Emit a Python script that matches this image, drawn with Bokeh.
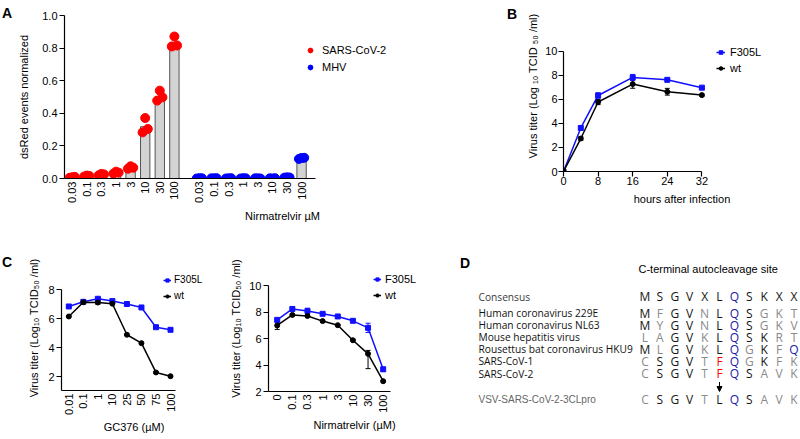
import math
from bokeh.plotting import figure
from bokeh.models import (Range1d, FixedTicker, ColumnDataSource, Whisker, TeeHead,
                          Legend, LegendItem, Arrow, NormalHead, NumeralTickFormatter)
from bokeh.layouts import row, column
from bokeh.core.properties import value
from bokeh.embed import file_html
from bokeh.resources import INLINE

# ---------------- data ----------------
# Panel A : dsRed events normalized vs Nirmatrelvir (uM)
conc_a = ["0.03", "0.1", "0.3", "1", "3", "10", "30", "100"]
sars_mean = [0.006, 0.014, 0.023, 0.033, 0.062, 0.318, 0.500, 0.826]
sars_rep1 = [0.004, 0.012, 0.020, 0.030, 0.060, 0.283, 0.478, 0.810]
sars_rep2 = [0.008, 0.018, 0.028, 0.042, 0.075, 0.371, 0.539, 0.871]
sars_rep3 = [0.010, 0.015, 0.025, 0.036, 0.066, 0.304, 0.498, 0.816]
mhv_mean = [0.001, 0.001, 0.001, 0.001, 0.001, 0.001, 0.006, 0.122]
mhv_rep1 = [0.000, 0.001, 0.000, 0.000, 0.001, 0.001, 0.005, 0.120]
mhv_rep2 = [0.002, 0.001, 0.001, 0.002, 0.001, 0.000, 0.007, 0.126]
mhv_rep3 = [0.001, 0.002, 0.002, 0.001, 0.000, 0.002, 0.006, 0.127]

# Panel B : growth kinetics
hours = [0, 4, 8, 16, 24, 32]
b_f305l = [0.0, 3.62, 6.32, 7.82, 7.62, 6.97]
b_f305l_sd = [0.0, 0.15, 0.22, 0.25, 0.08, 0.08]
b_wt = [0.0, 2.74, 5.78, 7.27, 6.63, 6.35]
b_wt_sd = [0.0, 0.15, 0.22, 0.35, 0.28, 0.08]

# Panel C (left) : GC376
gc_conc = ["0.01", "0.1", "1", "10", "25", "50", "75", "100"]
c1_f305l = [6.83, 7.15, 7.36, 7.20, 7.00, 6.76, 5.40, 5.22]
c1_f305l_sd = [0.05, 0.05, 0.08, 0.05, 0.05, 0.05, 0.05, 0.05]
c1_wt = [6.14, 7.12, 7.10, 7.02, 4.88, 4.30, 2.28, 2.02]
c1_wt_sd = [0.05, 0.05, 0.12, 0.05, 0.05, 0.05, 0.05, 0.05]

# Panel C (right) : Nirmatrelvir
nir_conc = ["0", "0.1", "0.3", "1", "3", "10", "30", "100"]
c2_f305l = [7.42, 8.25, 8.10, 7.88, 7.68, 7.35, 6.82, 3.68]
c2_f305l_sd = [0.12, 0.10, 0.20, 0.05, 0.05, 0.08, 0.35, 0.15]
c2_wt = [7.00, 7.80, 7.72, 7.33, 7.02, 5.88, 4.85, 2.78]
c2_wt_err_lo = [0.30, 0.05, 0.05, 0.05, 0.05, 0.05, 1.12, 0.05]
c2_wt_err_hi = [0.30, 0.05, 0.05, 0.05, 0.05, 0.05, 0.26, 0.05]

# Panel D : alignment of the C-terminal autocleavage site
d_names = ["Consensus", "Human coronavirus 229E", "Human coronavirus NL63",
           "Mouse hepatitis virus", "Rousettus bat coronavirus HKU9",
           "SARS-CoV-1", "SARS-CoV-2", "VSV-SARS-CoV-2-3CLpro"]
d_seqs = ["MSGVXLQSKXX", "MFGVNLQSGKT", "MYGVNLQSGKV", "LAGVKLQSKRT",
          "MLGVKLQGKFQ", "CSGVTFQGKFK", "CSGVTFQSAVK", "CSGVTLQSAVK"]

# ---------------- geometry / style ----------------
FONT = "Liberation Sans"
BLUE = "#1010ff"
RED = "#ff0000"
MHV_BLUE = "#0000ff"
Q_BLUE = "#2020a8"
GRAY = "#8a8a8a"


def make_fig(canvas, frame, x_range, y_range, axes=True):
    cl, ct, cr, cb = canvas
    fl, ft, fr, fb = frame
    kw = {} if axes else dict(x_axis_location=None, y_axis_location=None)
    p = figure(width=cr - cl, height=cb - ct, x_range=x_range, y_range=y_range, title=None,
               toolbar_location=None, output_backend="svg", frame_align=False,
               min_border_left=fl - cl, min_border_right=cr - fr,
               min_border_top=ft - ct, min_border_bottom=cb - fb, **kw)
    p.outline_line_color = None
    p.xgrid.visible = False
    p.ygrid.visible = False
    p.background_fill_color = "white"
    p.border_fill_color = "white"
    return p


def style_axes(p):
    for ax in p.axis:
        ax.axis_line_color = "black"
        ax.axis_line_width = 1.2
        ax.major_tick_line_color = "black"
        ax.major_tick_line_width = 1.2
        ax.major_tick_in = 0
        ax.major_tick_out = 5
        ax.minor_tick_line_color = None
        ax.major_label_text_font = FONT
        ax.major_label_text_font_size = "11px"
        ax.major_label_text_color = "black"
        ax.axis_label_text_font = FONT
        ax.axis_label_text_font_size = "11px"
        ax.axis_label_text_font_style = "normal"
        ax.axis_label_text_color = "black"


def add_legend(p, items, frame, glyph_left, first_center, step, glyph_w, standoff,
               font_size="11px"):
    fl, ft, fr, fb = frame
    ih = 14
    n = len(items)
    x = glyph_left - fl
    y = fb - (first_center + step * (n - 1)) - ih / 2
    leg = Legend(items=items, location=(x, y), orientation="vertical", padding=0, margin=0,
                 spacing=max(0, round(step - ih)), glyph_width=glyph_w, glyph_height=ih,
                 label_height=ih, label_standoff=standoff, label_text_font=FONT,
                 label_text_font_size=font_size, label_text_color="black",
                 border_line_color=None, background_fill_alpha=0)
    p.add_layout(leg)


def add_err(p, xs, ys, lo, hi, color):
    src = ColumnDataSource(dict(x=xs, upper=[y + h for y, h in zip(ys, hi)],
                                lower=[y - l for y, l in zip(ys, lo)]))
    p.add_layout(Whisker(source=src, base="x", upper="upper", lower="lower", dimension="height",
                         line_color=color, line_width=1,
                         upper_head=TeeHead(size=5, line_color=color, line_width=1),
                         lower_head=TeeHead(size=5, line_color=color, line_width=1)))


def letter_fig(canvas, letter, px, base):
    cl, ct, cr, cb = canvas
    p = make_fig(canvas, canvas, Range1d(cl, cr), Range1d(cb, ct), axes=False)
    p.text(x=[px], y=[base], text=[letter], text_color="black", text_font=value(FONT),
           text_font_size="14px", text_font_style="bold", text_align="left",
           text_baseline="alphabetic")
    return p


# canvas edges (page pixels)
TOP_H = 225
FULL_H = 439
W = 800

# ---------------- Panel A ----------------
cA = (14, 0, 500, TOP_H)
fA = (64, 15, 500, 178)
A_X0, A_PPU = 71.7, 14.6          # pixel of first category and pixels per category
ax_start = (fA[0] - A_X0) / A_PPU
ax_end = (fA[2] - A_X0) / A_PPU
pA = make_fig(cA, fA, Range1d(ax_start, ax_end), Range1d(0, 1.0))
GROUP_GAP = 1.71
xs_s = [float(i) for i in range(len(conc_a))]
xs_m = [i + len(conc_a) - 1 + GROUP_GAP for i in range(len(conc_a))]
JITTER = [-0.18, 0.0, 0.18]
pA.vbar(x=xs_s, top=sars_mean, width=0.64, fill_color="#d3d3d3", line_color="#555555", line_width=1)
pA.vbar(x=xs_m, top=mhv_mean, width=0.64, fill_color="#d3d3d3", line_color="#555555", line_width=1)
r_sars = None
r_mhv = None
for off, rep in zip(JITTER, [sars_rep1, sars_rep2, sars_rep3]):
    r = pA.scatter([x + off for x in xs_s], rep, size=9, color=RED)
    r_sars = r_sars or r
for off, rep in zip(JITTER, [mhv_rep1, mhv_rep2, mhv_rep3]):
    r = pA.scatter([x + off for x in xs_m], rep, size=9, color=MHV_BLUE)
    r_mhv = r_mhv or r
style_axes(pA)
pA.xaxis.bounds = (ax_start, (315 - A_X0) / A_PPU)
pA.xaxis.ticker = FixedTicker(ticks=xs_s + xs_m)
pA.xaxis.major_label_overrides = {x: lab for x, lab in zip(xs_s + xs_m, conc_a + conc_a)}
pA.xaxis.major_label_orientation = math.pi / 2
pA.xaxis.major_tick_out = 0
pA.xaxis.major_label_standoff = 3
pA.xaxis.axis_label = "Nirmatrelvir µM"
pA.xaxis.axis_label_standoff = 4
pA.yaxis.ticker = FixedTicker(ticks=[0, 0.2, 0.4, 0.6, 0.8, 1.0])
pA.yaxis.formatter = NumeralTickFormatter(format="0.0")
pA.yaxis.major_label_standoff = 2
pA.yaxis.axis_label = "dsRed events normalized"
pA.yaxis.axis_label_standoff = 9
add_legend(pA, [LegendItem(label="SARS-CoV-2", renderers=[r_sars]),
                LegendItem(label="MHV", renderers=[r_mhv])],
           fA, 304, 50, 17, 12, 6)

# ---------------- Panel B ----------------
cB = (522, 0, W, TOP_H)
fB = (563, 0, W, 171)
B_PPX = (701.7 - 563.3) / 32
B_PPY = (fB[3] - 50.7) / 10
pB = make_fig(cB, fB, Range1d(0, (fB[2] - fB[0]) / B_PPX), Range1d(0, (fB[3] - fB[1]) / B_PPY))
add_err(pB, hours, b_wt, b_wt_sd, b_wt_sd, "black")
add_err(pB, hours, b_f305l, b_f305l_sd, b_f305l_sd, BLUE)
lB1 = pB.line(hours, b_f305l, color=BLUE, line_width=1.5)
sB1 = pB.scatter(hours, b_f305l, marker="square", size=5, color=BLUE)
lB2 = pB.line(hours, b_wt, color="black", line_width=1.5)
sB2 = pB.scatter(hours, b_wt, marker="circle", size=5, color="black")
style_axes(pB)
pB.xaxis.bounds = (0, 32)
pB.yaxis.bounds = (0, 10)
pB.xaxis.ticker = FixedTicker(ticks=[0, 8, 16, 24, 32])
pB.yaxis.ticker = FixedTicker(ticks=[0, 2, 4, 6, 8, 10])
pB.xaxis.major_label_standoff = 0
pB.yaxis.major_label_standoff = 1
pB.xaxis.axis_label = "hours after infection"
pB.xaxis.axis_label_standoff = 5
pB.yaxis.axis_label = "Virus titer (Log ₁₀ TCID ₅₀ /ml)"
pB.yaxis.axis_label_standoff = 3
add_legend(pB, [LegendItem(label="F305L", renderers=[lB1, sB1]),
                LegendItem(label="wt", renderers=[lB2, sB2])],
           fB, 716, 51.5, 16.5, 9, 5)

# ---------------- Panel C (left) ----------------
cC1 = (14, TOP_H, 206, FULL_H)
fC1 = (61, 265, 206, 390)
C1_X0, C1_PPX = 68.3, 14.53
C1_Y2, C1_PPY = 376.0, 14.5
c1x0 = (fC1[0] - C1_X0) / C1_PPX
c1y0 = 2 - (fC1[3] - C1_Y2) / C1_PPY
pC1 = make_fig(cC1, fC1, Range1d(c1x0, (fC1[2] - C1_X0) / C1_PPX),
               Range1d(c1y0, 2 + (C1_Y2 - fC1[1]) / C1_PPY))
xc = list(range(len(gc_conc)))
add_err(pC1, xc, c1_wt, c1_wt_sd, c1_wt_sd, "black")
add_err(pC1, xc, c1_f305l, c1_f305l_sd, c1_f305l_sd, BLUE)
lC1a = pC1.line(xc, c1_f305l, color=BLUE, line_width=1.5)
sC1a = pC1.scatter(xc, c1_f305l, marker="square", size=5, color=BLUE)
lC1b = pC1.line(xc, c1_wt, color="black", line_width=1.5)
sC1b = pC1.scatter(xc, c1_wt, marker="circle", size=5, color="black")
style_axes(pC1)
pC1.xaxis.bounds = (c1x0, (175 - C1_X0) / C1_PPX)
pC1.yaxis.bounds = (c1y0, 8)
pC1.xaxis.ticker = FixedTicker(ticks=xc)
pC1.xaxis.major_label_overrides = {x: lab for x, lab in zip(xc, gc_conc)}
pC1.xaxis.major_label_orientation = math.pi / 2
pC1.xaxis.major_tick_out = 0
pC1.xaxis.major_label_standoff = 3
pC1.xaxis.axis_label = "GC376 (µM)"
pC1.xaxis.axis_label_standoff = 3
pC1.yaxis.ticker = FixedTicker(ticks=[2, 4, 6, 8])
pC1.yaxis.major_label_standoff = 2
pC1.yaxis.axis_label = "Virus titer (Log₁₀ TCID₅₀ /ml)"
pC1.yaxis.axis_label_standoff = 5
add_legend(pC1, [LegendItem(label="F305L", renderers=[lC1a, sC1a]),
                 LegendItem(label="wt", renderers=[lC1b, sC1b])],
           fC1, 163, 279, 16.5, 8, 3, font_size="10px")

# ---------------- Panel C (right) ----------------
cC2 = (206, TOP_H, 440, FULL_H)
fC2 = (268, 265, 440, 391)
C2_X0, C2_PPX = 276.7, 15.14
C2_PPY = 13.21
c2x0 = (fC2[0] - C2_X0) / C2_PPX
pC2 = make_fig(cC2, fC2, Range1d(c2x0, (fC2[2] - C2_X0) / C2_PPX),
               Range1d(2, 2 + (fC2[3] - fC2[1]) / C2_PPY))
xn = list(range(len(nir_conc)))
add_err(pC2, xn, c2_wt, c2_wt_err_lo, c2_wt_err_hi, "black")
add_err(pC2, xn, c2_f305l, c2_f305l_sd, c2_f305l_sd, BLUE)
lC2a = pC2.line(xn, c2_f305l, color=BLUE, line_width=1.5)
sC2a = pC2.scatter(xn, c2_f305l, marker="square", size=5, color=BLUE)
lC2b = pC2.line(xn, c2_wt, color="black", line_width=1.5)
sC2b = pC2.scatter(xn, c2_wt, marker="circle", size=5, color="black")
style_axes(pC2)
pC2.xaxis.bounds = (c2x0, (390 - C2_X0) / C2_PPX)
pC2.yaxis.bounds = (2, 10)
pC2.xaxis.ticker = FixedTicker(ticks=xn)
pC2.xaxis.major_label_overrides = {x: lab for x, lab in zip(xn, nir_conc)}
pC2.xaxis.major_label_orientation = math.pi / 2
pC2.xaxis.major_tick_out = 0
pC2.xaxis.major_label_standoff = 3
pC2.xaxis.axis_label = "Nirmatrelvir (µM)"
pC2.xaxis.axis_label_standoff = 3
pC2.yaxis.ticker = FixedTicker(ticks=[2, 4, 6, 8, 10])
pC2.yaxis.major_label_standoff = 2
pC2.yaxis.axis_label = "Virus titer (Log₁₀ TCID₅₀ /ml)"
pC2.yaxis.axis_label_standoff = 4
add_legend(pC2, [LegendItem(label="F305L", renderers=[lC2a, sC2a]),
                 LegendItem(label="wt", renderers=[lC2b, sC2b])],
           fC2, 373, 279, 15.5, 8, 4)

# ---------------- Panel D ----------------
cD = (440, TOP_H, W, FULL_H)
pD = make_fig(cD, cD, Range1d(cD[0], cD[2]), Range1d(cD[3], cD[1]), axes=False)

NAME_X = 478
SEQ_X0 = 644.5
SEQ_DX = 14.9
row_y = []
y = 296.0
for i in range(len(d_names)):
    if i == 1:
        y += 16.5
    elif i == len(d_names) - 1:
        y += 26.0
    elif i > 1:
        y += 12.1
    row_y.append(y)

cons = d_seqs[0]


def letter_color(i, j, ch):
    if ch == "Q":
        return Q_BLUE
    if i == 0 or ch == cons[j]:
        return "#151515"
    if cons[j] == "L":
        return RED
    return GRAY


lx, ly, lt, lc = [], [], [], []
for i, seq in enumerate(d_seqs):
    for j, ch in enumerate(seq):
        lx.append(SEQ_X0 + j * SEQ_DX)
        ly.append(row_y[i])
        lt.append(ch)
        lc.append(letter_color(i, j, ch))
pD.text(x="x", y="y", text="t", text_color="c",
        source=ColumnDataSource(dict(x=lx, y=ly, t=lt, c=lc)),
        text_font=value("Open Sans"), text_font_size="12px",
        text_align="center", text_baseline="middle")

name_colors = ["#3a3a3a"] + ["#111111"] * (len(d_names) - 2) + ["#666666"]
name_fonts = ["Open Sans"] * (len(d_names) - 1) + [FONT]
name_sizes = ["10.2px"] * (len(d_names) - 1) + ["10px"]
for i, name in enumerate(d_names):
    pD.text(x=[NAME_X], y=[row_y[i]], text=[name], text_color=name_colors[i],
            text_font=value(name_fonts[i]), text_font_size=name_sizes[i],
            text_align="left", text_baseline="middle")

pD.text(x=[638], y=[268], text=["C-terminal autocleavage site"], text_color="black",
        text_font=value(FONT), text_font_size="11px", text_align="left", text_baseline="middle")
pD.text(x=[459.5], y=[262.3], text=["D"], text_color="black", text_font=value(FONT),
        text_font_size="14px", text_font_style="bold", text_align="left", text_baseline="alphabetic")

arrow_x = SEQ_X0 + cons.index("L") * SEQ_DX
pD.add_layout(Arrow(end=NormalHead(size=5, fill_color="black", line_color="black", line_width=1),
                    x_start=arrow_x, y_start=row_y[-2] + 8.5, x_end=arrow_x, y_end=row_y[-1] - 8,
                    line_color="black", line_width=1))

# ---------------- panel letters ----------------
pLA = letter_fig((0, 0, cA[0], TOP_H), "A", 1.5, 12.7)
pLB = letter_fig((cA[2], 0, cB[0], TOP_H), "B", 506.5, 13.3)
pLC = letter_fig((0, TOP_H, cC1[0], FULL_H), "C", 1.5, 261)

layout = column(row(pLA, pA, pLB, pB), row(pLC, pC1, pC2, pD))
with open("out.html", "w", encoding="utf-8") as f:
    f.write(file_html(layout, INLINE))
